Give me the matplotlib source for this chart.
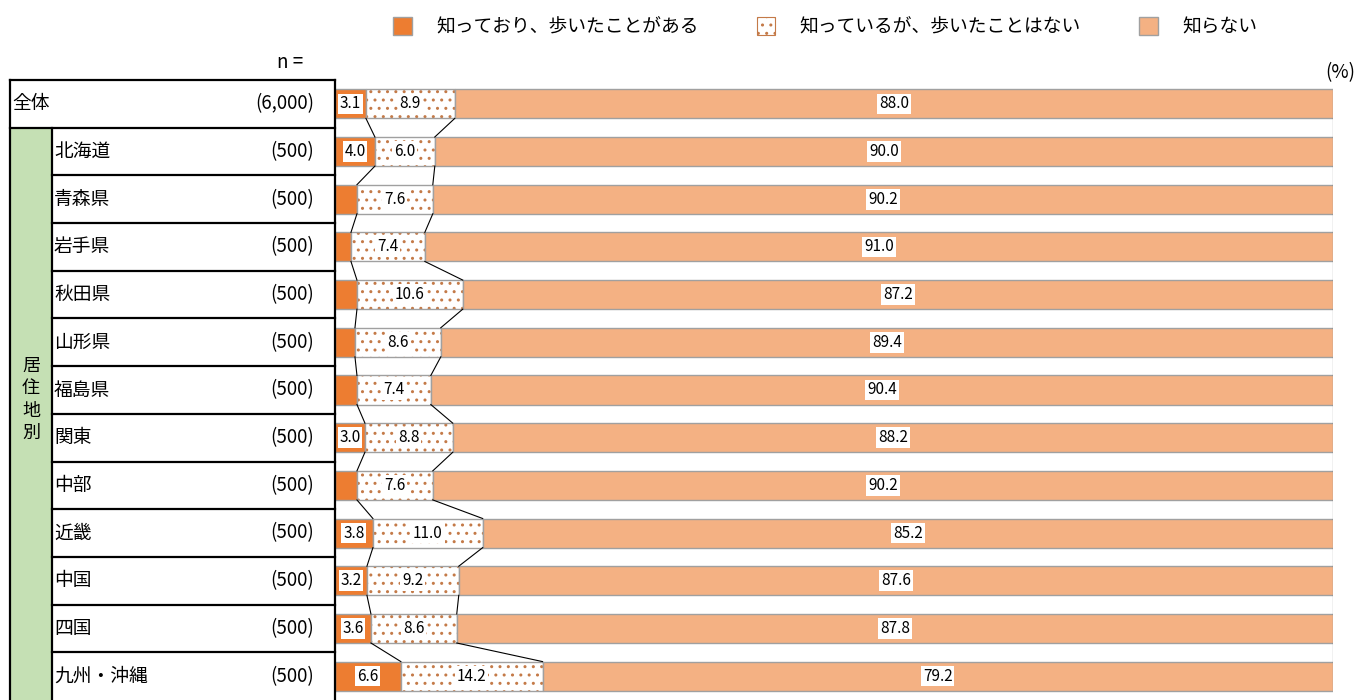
import matplotlib.pyplot as plt
from matplotlib.patches import Patch, Rectangle

plt.rcParams['font.family'] = ['Noto Sans CJK JP', 'DejaVu Sans']
plt.rcParams['hatch.linewidth'] = 1.0

cats = ['全体', '北海道', '青森県', '岩手県', '秋田県', '山形県', '福島県',
        '関東', '中部', '近畿', '中国', '四国', '九州・沖縄']
n_labels = ['(6,000)'] + ['(500)'] * 12
walked = [3.1, 4.0, 2.2, 1.6, 2.2, 2.0, 2.2, 3.0, 2.2, 3.8, 3.2, 3.6, 6.6]
not_walked = [8.9, 6.0, 7.6, 7.4, 10.6, 8.6, 7.4, 8.8, 7.6, 11.0, 9.2, 8.6, 14.2]
unknown = [88.0, 90.0, 90.2, 91.0, 87.2, 89.4, 90.4, 88.2, 90.2, 85.2, 87.6, 87.8, 79.2]
legend_labels = ['知っており、歩いたことがある', '知っているが、歩いたことはない', '知らない']

c_dark = '#ED7D31'
c_light = '#F4B183'
c_dot = '#C47A48'
c_edge = '#A0A0A0'

W, H = 1358, 700
fig = plt.figure(figsize=(W / 100, H / 100), dpi=100)
ax = fig.add_axes([335 / W, 0, 998 / W, 620 / H])
tab = fig.add_axes([10 / W, 0, 325 / W, 620 / H])

y = list(range(len(cats)))
h = 0.61
left2 = [a for a in walked]
left3 = [a + b for a, b in zip(walked, not_walked)]

ax.barh(y, walked, height=h, color=c_dark, edgecolor=c_edge, lw=1)
# dotted segment: hatch pass then outline pass
ax.barh(y, not_walked, left=left2, height=h, color='white', edgecolor=c_dot,
        hatch='..', lw=0)
ax.barh(y, not_walked, left=left2, height=h, color='none', edgecolor=c_edge, lw=1)
ax.barh(y, unknown, left=left3, height=h, color=c_light, edgecolor=c_edge, lw=1)

# series lines
for bounds in [walked, left3, [100] * len(cats)]:
    for i in range(len(cats) - 1):
        ax.plot([bounds[i], bounds[i + 1]], [i + h / 2, i + 1 - h / 2],
                color='black', lw=0.8)

box = dict(facecolor='white', edgecolor='none', pad=1.3)
fs = 11
for i in y:
    if walked[i] >= 3.0:
        ax.text(walked[i] / 2, i, f'{walked[i]:.1f}', ha='center', va='center',
                fontsize=fs, bbox=box)
    ax.text(left2[i] + not_walked[i] / 2, i, f'{not_walked[i]:.1f}', ha='center',
            va='center', fontsize=fs, bbox=box)
    ax.text(left3[i] + unknown[i] / 2, i, f'{unknown[i]:.1f}', ha='center',
            va='center', fontsize=fs, bbox=box)

ax.set_xlim(0, 100)
ax.set_ylim(len(cats) - 0.5, -0.5)
ax.axis('off')

# left table
tab.set_xlim(0, 325)
tab.set_ylim(len(cats) - 0.5, -0.5)
tab.axis('off')
tab.add_patch(Rectangle((0, 0.5), 42, len(cats) - 1, facecolor='#C5E0B4',
                        edgecolor='none'))
lk = dict(color='black', lw=1.6, clip_on=False)
tab.plot([0, 325], [-0.5, -0.5], **lk)
tab.plot([0, 325], [0.5, 0.5], **lk)
tab.plot([0, 0], [-0.5, len(cats) - 0.5], **lk)
tab.plot([42, 42], [0.5, len(cats) - 0.5], **lk)
tab.plot([325, 325], [-0.5, len(cats) - 0.5], **lk)
for i in range(1, len(cats) - 1):
    tab.plot([42, 325], [i + 0.5, i + 0.5], **lk)

tfs = 13.5
tab.text(2, 0, cats[0], ha='left', va='center', fontsize=tfs)
for i in range(1, len(cats)):
    tab.text(44, i, cats[i], ha='left', va='center', fontsize=tfs)
for i in y:
    tab.text(304, i, n_labels[i], ha='right', va='center', fontsize=tfs)
tab.text(21, 6.2, '居\n住\n地\n別', ha='center', va='center', fontsize=tfs - 0.5,
         linespacing=1.3)

fig.text(290 / W, 1 - 62 / H, 'n =', ha='center', va='center', fontsize=tfs)
fig.text(1355 / W, 1 - 73 / H, '(%)', ha='right', va='center', fontsize=tfs)

handles = [Patch(facecolor=c_dark, edgecolor=c_edge),
           Patch(facecolor='white', edgecolor=c_dot, hatch='..', lw=0.8),
           Patch(facecolor=c_light, edgecolor=c_edge)]
fig.legend(handles, legend_labels, loc='center', ncol=3,
           bbox_to_anchor=(825 / W, 1 - 27 / H), frameon=False, fontsize=tfs,
           handlelength=1.0, handleheight=1.1, columnspacing=3.1,
           handletextpad=1.3)

fig.savefig('out.png', dpi=100)
